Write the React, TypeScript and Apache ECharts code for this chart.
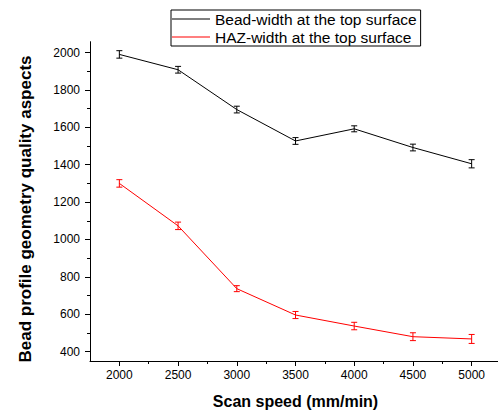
import React, { useEffect, useRef } from "react";
import * as echarts from "echarts";

const scanSpeed = [2000, 2500, 3000, 3500, 4000, 4500, 5000];
const beadWidth = [1990, 1908, 1695, 1527, 1592, 1492, 1405];
const beadErr = [20, 18, 18, 18, 16, 18, 22];
const hazWidth = [1300, 1073, 737, 596, 537, 480, 468];
const hazErr = [20, 20, 16, 19, 20, 21, 24];

const yMajorTicks = [400, 600, 800, 1000, 1200, 1400, 1600, 1800, 2000];
const yMinorTicks = [500, 700, 900, 1100, 1300, 1500, 1700, 1900];
const xMajorTicks = [2000, 2500, 3000, 3500, 4000, 4500, 5000];
const xMinorTicks = [2250, 2750, 3250, 3750, 4250, 4750];

const seriesNames = ["Bead-width at the top surface", "HAZ-width at the top surface"];
const xTitle = "Scan speed (mm/min)";
const yTitle = "Bead profile geometry quality aspects";

const FONT = "'Liberation Sans', Arial, sans-serif";

export default function App() {
  const ref = useRef<HTMLDivElement>(null);
  useEffect(() => {
    if (!ref.current) return;
    const chart = echarts.init(ref.current, null, { renderer: "svg" });

    const toPairs = (vals: number[]) => scanSpeed.map((x, i) => [x, vals[i]]);
    const toBars = (vals: number[], errs: number[]) =>
      scanSpeed.map((x, i) => [x, vals[i] - errs[i], vals[i] + errs[i]]);
    const errRender = (color: string) => (params: any, api: any) => {
      const x = api.value(0);
      const lo = api.coord([x, api.value(1)]);
      const hi = api.coord([x, api.value(2)]);
      const w = 3;
      const st = { stroke: color, lineWidth: 1 };
      return {
        type: "group",
        children: [
          { type: "line", shape: { x1: lo[0], y1: lo[1], x2: hi[0], y2: hi[1] }, style: st },
          { type: "line", shape: { x1: lo[0] - w, y1: lo[1], x2: lo[0] + w, y2: lo[1] }, style: st },
          { type: "line", shape: { x1: hi[0] - w, y1: hi[1], x2: hi[0] + w, y2: hi[1] }, style: st },
        ],
      };
    };

    const axisLine = { show: true, lineStyle: { color: "#000", width: 1 } };
    const plain = (v: number) => String(v);

    chart.setOption({
      animation: false,
      backgroundColor: "#fff",
      grid: { left: 90, right: -3, top: 41.7, bottom: 51, containLabel: false, outerBoundsMode: "none" },
      legend: {
        orient: "vertical",
        left: 171,
        top: 10,
        data: seriesNames,
        icon: "rect",
        itemWidth: 38,
        itemHeight: 1,
        itemGap: 2,
        padding: [1, 4, 1, 1],
        borderColor: "#000",
        borderWidth: 1,
        borderRadius: 0,
        selectedMode: false,
        textStyle: { fontFamily: FONT, fontSize: 15.5, color: "#000" },
      },
      xAxis: [
        {
          type: "value",
          min: 1750,
          max: 5250,
          position: "bottom",
          axisLine,
          axisTick: { show: true, customValues: xMajorTicks, length: 5, lineStyle: { color: "#000" } },
          axisLabel: { customValues: xMajorTicks, formatter: plain, fontFamily: FONT, fontSize: 12, color: "#000", margin: 8 },
          splitLine: { show: false },
          name: xTitle,
          nameLocation: "middle",
          nameGap: 32,
          nameTextStyle: { fontFamily: FONT, fontSize: 16, fontWeight: "bold", color: "#000" },
        },
        {
          type: "value",
          min: 1750,
          max: 5250,
          position: "bottom",
          axisLine: { show: false },
          axisTick: { show: true, customValues: xMinorTicks, length: 3, lineStyle: { color: "#000" } },
          axisLabel: { show: false },
          splitLine: { show: false },
        },
      ],
      yAxis: [
        {
          type: "value",
          min: 350,
          max: 2058,
          position: "left",
          axisLine,
          axisTick: { show: true, customValues: yMajorTicks, length: 5, lineStyle: { color: "#000" } },
          axisLabel: { customValues: yMajorTicks, formatter: plain, fontFamily: FONT, fontSize: 12, color: "#000", margin: 10 },
          splitLine: { show: false },
        },
        {
          type: "value",
          min: 350,
          max: 2058,
          position: "left",
          axisLine: { show: false },
          axisTick: { show: true, customValues: yMinorTicks, length: 3, lineStyle: { color: "#000" } },
          axisLabel: { show: false },
          splitLine: { show: false },
        },
      ],
      graphic: [
        {
          type: "text",
          x: 25,
          y: 209,
          rotation: Math.PI / 2,
          style: {
            text: yTitle,
            font: `bold 17px ${FONT}`,
            fill: "#000",
            textAlign: "center",
            textVerticalAlign: "middle",
            align: "center",
            verticalAlign: "middle",
          },
        },
      ],
      series: [
        {
          name: seriesNames[0],
          type: "line",
          data: toPairs(beadWidth),
          symbol: "none",
          color: "#000000",
          lineStyle: { color: "#000000", width: 1 },
          z: 3,
        },
        {
          name: seriesNames[1],
          type: "line",
          data: toPairs(hazWidth),
          symbol: "none",
          color: "#ff0000",
          lineStyle: { color: "#ff0000", width: 1 },
          z: 3,
        },
        {
          type: "custom",
          data: toBars(beadWidth, beadErr),
          renderItem: errRender("#000000"),
          encode: { x: 0, y: [1, 2] },
          z: 4,
        },
        {
          type: "custom",
          data: toBars(hazWidth, hazErr),
          renderItem: errRender("#ff0000"),
          encode: { x: 0, y: [1, 2] },
          z: 4,
        },
      ],
    });
    return () => chart.dispose();
  }, []);
  return (
    <div
      ref={ref}
      style={{ position: "absolute", left: 0, top: 0, width: 498, height: 412 }}
    />
  );
}
